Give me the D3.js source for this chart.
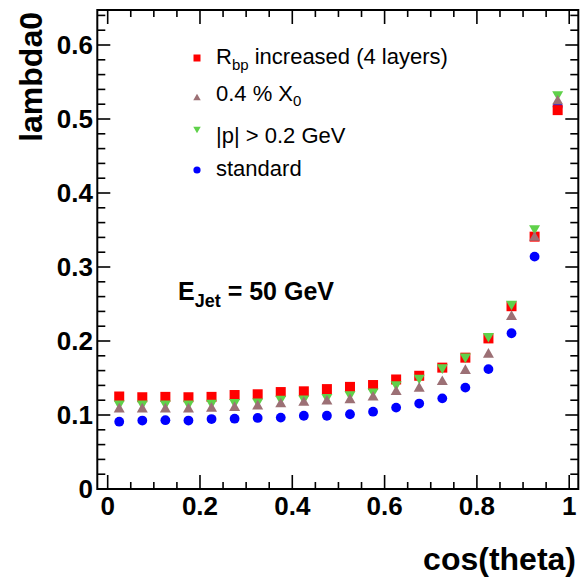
<!DOCTYPE html>
<html><head><meta charset="utf-8">
<script src="https://cdn.jsdelivr.net/npm/d3@7"></script>
<style>html,body{margin:0;padding:0;background:#fff;}svg{display:block;font-family:"Liberation Sans",Arial,sans-serif;}</style>
</head><body>
<svg id="c" width="580" height="577"></svg>
<script>
const cosTheta = [0.025,0.075,0.125,0.175,0.225,0.275,0.325,0.375,0.425,0.475,0.525,0.575,0.625,0.675,0.725,0.775,0.825,0.875,0.925,0.975];
const rbpIncreased = [0.125,0.124,0.1245,0.124,0.1245,0.127,0.128,0.131,0.132,0.135,0.138,0.1405,0.148,0.153,0.164,0.1775,0.2035,0.247,0.341,0.512];
const x0Reduced = [0.110,0.110,0.110,0.110,0.111,0.112,0.114,0.117,0.119,0.1205,0.1225,0.126,0.1335,0.138,0.147,0.162,0.184,0.235,0.342,0.526];
const pCut = [0.113,0.113,0.113,0.113,0.114,0.115,0.116,0.1195,0.120,0.122,0.1255,0.1295,0.139,0.148,0.162,0.1765,0.2045,0.248,0.350,0.531];
const standard = [0.091,0.0925,0.093,0.0925,0.0945,0.095,0.096,0.0965,0.099,0.099,0.101,0.1045,0.110,0.1155,0.1225,0.137,0.162,0.2105,0.314,0.517];
const xTickLabels = ["0","0.2","0.4","0.6","0.8","1"];
const yTickLabels = ["0","0.1","0.2","0.3","0.4","0.5","0.6"];

const svg = d3.select("#c");
const x = d3.scaleLinear().domain([-0.0225,1.0197]).range([97.3,578.3]);
const y = d3.scaleLinear().domain([0,0.6473]).range([489,10]);
const L = x.range()[0], R = x.range()[1], T = y.range()[1], B = y.range()[0];
const font = '"Liberation Sans",Arial,sans-serif';

// ticks
const tk = svg.append("g").attr("stroke","#000").attr("stroke-width",1.6);
const xMinor = d3.range(0,21).map(i=>i*0.05);
xMinor.forEach((v,i)=>{
  const major = i%4===0, len = major?14:7;
  tk.append("line").attr("x1",x(v)).attr("x2",x(v)).attr("y1",B).attr("y2",B-len);
  tk.append("line").attr("x1",x(v)).attr("x2",x(v)).attr("y1",T).attr("y2",T+len);
});
const yMinor = d3.range(0,33).map(i=>i*0.02).filter(v=>v<=0.6473);
yMinor.forEach((v,i)=>{
  const major = i%5===0, len = major?13:8;
  tk.append("line").attr("x1",L).attr("x2",L+len).attr("y1",y(v)).attr("y2",y(v));
  tk.append("line").attr("x1",R).attr("x2",R-len).attr("y1",y(v)).attr("y2",y(v));
});
// frame
svg.append("rect").attr("x",L).attr("y",T).attr("width",R-L).attr("height",B-T)
  .attr("fill","none").attr("stroke","#000").attr("stroke-width",2);

// tick labels
xTickLabels.forEach(t=>{
  svg.append("text").attr("x",x(+t)).attr("y",515).attr("text-anchor","middle")
    .attr("font-size",26).attr("font-weight","bold").text(t);
});
yTickLabels.forEach(t=>{
  svg.append("text").attr("x",93).attr("y",y(+t)+9).attr("text-anchor","end")
    .attr("font-size",26).attr("font-weight","bold").text(t);
});
// axis titles
svg.append("text").attr("x",576).attr("y",570).attr("text-anchor","end")
  .attr("font-size",32).attr("font-weight","bold").text("cos(theta)");
svg.append("text").attr("transform","translate(42,12) rotate(-90)").attr("text-anchor","end")
  .attr("font-size",32).attr("font-weight","bold").text("lambda0");

// markers
const sq = d3.symbol().type(d3.symbolSquare);
function triUp(s){const h=s*0.87;return `M${-s/2},${h/2}L${s/2},${h/2}L0,${-h/2}Z`;}
function triDown(s){const h=s*0.87;return `M${-s/2},${-h/2}L${s/2},${-h/2}L0,${h/2}Z`;}
const cBlue="#0000ff", cRed="#ff0000", cGreen="#5fd14a", cBrown="#9c7075";

svg.append("g").selectAll("circle").data(standard).join("circle")
  .attr("cx",(d,i)=>x(cosTheta[i])).attr("cy",d=>y(d)).attr("r",4.9).attr("fill",cBlue);
svg.append("g").selectAll("rect").data(rbpIncreased).join("rect")
  .attr("x",(d,i)=>x(cosTheta[i])-5).attr("y",d=>y(d)-5).attr("width",10).attr("height",10).attr("fill",cRed);
svg.append("g").selectAll("path").data(pCut).join("path")
  .attr("transform",(d,i)=>`translate(${x(cosTheta[i])},${y(d)})`).attr("d",triDown(11)).attr("fill",cGreen);
svg.append("g").selectAll("path").data(x0Reduced).join("path")
  .attr("transform",(d,i)=>`translate(${x(cosTheta[i])},${y(d)})`).attr("d",triUp(11)).attr("fill",cBrown);

// legend
const lx = 197, tx = 216;
svg.append("rect").attr("x",lx-3.5).attr("y",58-3.5).attr("width",7).attr("height",7).attr("fill",cRed);
svg.append("path").attr("transform","translate("+lx+",97)").attr("d",triUp(7.5)).attr("fill",cBrown);
svg.append("path").attr("transform","translate("+lx+",130)").attr("d",triDown(7.5)).attr("fill",cGreen);
svg.append("circle").attr("cx",lx).attr("cy",170).attr("r",3.6).attr("fill",cBlue);

const t1 = svg.append("text").attr("x",tx).attr("y",63.5).attr("font-size",22);
t1.append("tspan").text("R");
t1.append("tspan").attr("font-size",15).attr("dy",6).text("bp");
t1.append("tspan").attr("dy",-6).text(" increased (4 layers)");
const t2 = svg.append("text").attr("x",tx).attr("y",101).attr("font-size",22);
t2.append("tspan").text("0.4 % X");
t2.append("tspan").attr("font-size",15).attr("dy",5).text("0");
svg.append("text").attr("x",tx).attr("y",142.5).attr("font-size",22).text("|p| > 0.2 GeV");
svg.append("text").attr("x",tx).attr("y",176).attr("font-size",22).text("standard");

const te = svg.append("text").attr("x",178).attr("y",300).attr("font-size",25).attr("font-weight","bold");
te.append("tspan").text("E");
te.append("tspan").attr("font-size",18).attr("dy",7).text("Jet");
te.append("tspan").attr("dy",-7).text(" = 50 GeV");
</script>
</body></html>
